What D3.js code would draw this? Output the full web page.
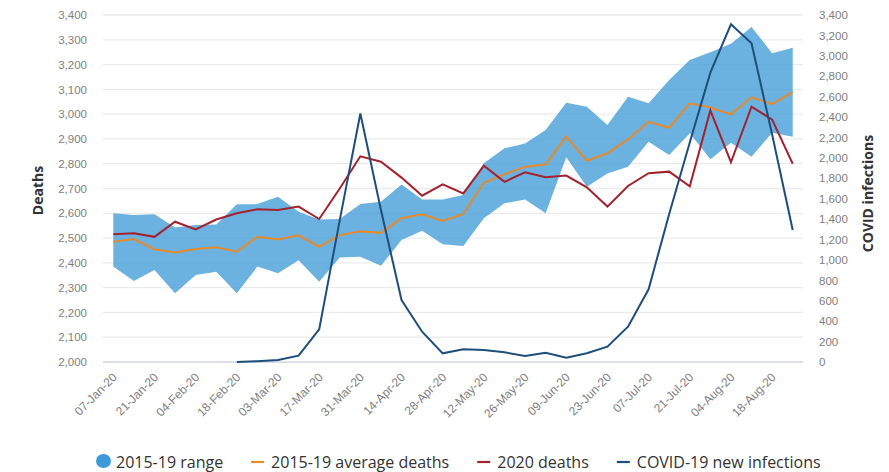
<!DOCTYPE html>
<html>
<head>
<meta charset="utf-8">
<script src="https://cdn.jsdelivr.net/npm/d3@7"></script>
<style>
  body { margin: 0; background: #fff; }
  svg { font-family: "Open Sans", "Noto Sans", sans-serif; }
  .tick text { fill: #808080; font-size: 11.5px; }
  .x-axis .tick text { font-size: 12px; }
  .title { fill: #333; font-size: 14px; font-weight: bold; }
  .legend text { fill: #333; font-size: 16px; }
</style>
</head>
<body>
<div id="chart"></div>
<script>
// weekly categories
const weeks = [
  "07-Jan-20","14-Jan-20","21-Jan-20","28-Jan-20","04-Feb-20","11-Feb-20","18-Feb-20","25-Feb-20",
  "03-Mar-20","10-Mar-20","17-Mar-20","24-Mar-20","31-Mar-20","07-Apr-20","14-Apr-20","21-Apr-20",
  "28-Apr-20","05-May-20","12-May-20","19-May-20","26-May-20","02-Jun-20","09-Jun-20","16-Jun-20",
  "23-Jun-20","30-Jun-20","07-Jul-20","14-Jul-20","21-Jul-20","28-Jul-20","04-Aug-20","11-Aug-20",
  "18-Aug-20","25-Aug-20"
];

// 2015-19 range (min / max)
const rangeLow = [2385,2327,2371,2277,2351,2364,2277,2385,2358,2411,2324,2422,2425,2388,2492,2530,
  2475,2468,2580,2640,2656,2600,2826,2707,2761,2788,2889,2835,2923,2818,2885,2828,2925,2909];
const rangeHigh = [2600,2593,2596,2543,2553,2555,2636,2637,2667,2606,2575,2577,2637,2647,2716,2656,
  2656,2674,2802,2862,2882,2936,3046,3030,2956,3070,3044,3138,3218,3250,3284,3352,3246,3268];

// 2015-19 average deaths
const avgDeaths = [2485,2496,2455,2442,2456,2463,2445,2505,2494,2511,2465,2512,2527,2521,2580,2596,
  2569,2597,2723,2757,2788,2797,2909,2812,2842,2898,2969,2945,3044,3027,2999,3068,3040,3089];

// 2020 deaths
const deaths2020 = [2515,2519,2505,2566,2535,2575,2600,2616,2613,2627,2577,2700,2830,2808,2744,2671,
  2717,2680,2792,2727,2765,2745,2752,2705,2627,2710,2762,2768,2709,3015,2806,3030,2978,2800];

// COVID-19 new infections (right axis), none before 18-Feb
const covid = [null,null,null,null,null,null,0,8,20,62,320,1390,2435,1490,607,297,
  85,124,118,95,59,91,42,85,150,346,712,1450,2150,2835,3309,3122,2230,1293];

const leftTicks = d3.range(2000, 3401, 100);
const rightTicks = d3.range(0, 3401, 200);
const weekTicks = weeks.filter((d, i) => i % 2 === 0);

const legendItems = [
  {label: "2015-19 range", type: "dot", color: "#3d9ad6"},
  {label: "2015-19 average deaths", type: "line", color: "#e68a2e"},
  {label: "2020 deaths", type: "line", color: "#a3222e"},
  {label: "COVID-19 new infections", type: "line", color: "#1e4e79"}
];

const width = 889, height = 472;
const m = {left: 103, right: 86, top: 15, bottom: 110};

const svg = d3.select("#chart").append("svg")
  .attr("width", width)
  .attr("height", height);

const x = d3.scalePoint()
  .domain(weeks)
  .range([m.left, width - m.right])
  .padding(0.5);
const yL = d3.scaleLinear().domain([2000, 3400]).range([height - m.bottom, m.top]);
const yR = d3.scaleLinear().domain([0, 3400]).range([height - m.bottom, m.top]);

// gridlines
svg.append("g")
  .selectAll("line")
  .data(leftTicks.slice(1))
  .join("line")
  .attr("x1", m.left).attr("x2", width - m.right)
  .attr("y1", d => yL(d)).attr("y2", d => yL(d))
  .attr("stroke", "#ebebeb")
  .attr("stroke-width", 1.3);

// baseline
svg.append("line")
  .attr("x1", m.left).attr("x2", width - m.right)
  .attr("y1", yL(2000)).attr("y2", yL(2000))
  .attr("stroke", "#cdd6e6")
  .attr("stroke-width", 1.3);

// left axis
svg.append("g")
  .attr("transform", `translate(${m.left},0)`)
  .call(d3.axisLeft(yL).tickValues(leftTicks).tickFormat(d3.format(",")).tickSize(0).tickPadding(16))
  .call(g => g.select(".domain").remove());

// right axis
svg.append("g")
  .attr("transform", `translate(${width - m.right},0)`)
  .call(d3.axisRight(yR).tickValues(rightTicks).tickFormat(d3.format(",")).tickSize(0).tickPadding(16))
  .call(g => g.select(".domain").remove());

// bottom axis, rotated labels
svg.append("g")
  .attr("class", "x-axis")
  .attr("transform", `translate(0,${yL(2000)})`)
  .call(d3.axisBottom(x).tickValues(weekTicks).tickSize(0))
  .call(g => g.select(".domain").remove())
  .call(g => g.selectAll("text")
    .attr("x", 0).attr("y", 0)
    .attr("dy", "0.35em")
    .attr("text-anchor", "end")
    .attr("transform", "translate(1,13) rotate(-45)"));

// axis titles
svg.append("text")
  .attr("class", "title")
  .attr("transform", `translate(43,${(yL(2000) + yL(3400)) / 2 + 2}) rotate(-90)`)
  .attr("text-anchor", "middle")
  .text("Deaths");
svg.append("text")
  .attr("class", "title")
  .attr("transform", `translate(873,${(yL(2000) + yL(3400)) / 2 + 5}) rotate(-90)`)
  .attr("text-anchor", "middle")
  .text("COVID infections");

// range band
const area = d3.area()
  .x((d, i) => x(weeks[i]))
  .y0((d, i) => yL(rangeLow[i]))
  .y1((d, i) => yL(rangeHigh[i]));
svg.append("path")
  .datum(weeks)
  .attr("d", area)
  .attr("fill", "#3d9ad6")
  .attr("fill-opacity", 0.76);

// lines
const lineL = d3.line().x((d, i) => x(weeks[i])).y(d => yL(d));
const lineR = d3.line()
  .defined(d => d !== null)
  .x((d, i) => x(weeks[i])).y(d => yR(d));

svg.append("path")
  .datum(avgDeaths)
  .attr("d", lineL)
  .attr("fill", "none")
  .attr("stroke", legendItems[1].color)
  .attr("stroke-width", 2);

svg.append("path")
  .datum(deaths2020)
  .attr("d", lineL)
  .attr("fill", "none")
  .attr("stroke", legendItems[2].color)
  .attr("stroke-width", 2);

svg.append("path")
  .datum(covid)
  .attr("d", lineR)
  .attr("fill", "none")
  .attr("stroke", legendItems[3].color)
  .attr("stroke-width", 2);

// legend
const legend = svg.append("g").attr("class", "legend");
let lx = 96;
const ly = 462;
legendItems.forEach(item => {
  const g = legend.append("g").attr("transform", `translate(${lx},${ly})`);
  if (item.type === "dot") {
    g.append("ellipse").attr("cx", 7.5).attr("cy", -1).attr("rx", 7.5).attr("ry", 7)
      .attr("fill", item.color);
  } else {
    g.append("line").attr("x1", 0).attr("x2", 13).attr("y1", 0).attr("y2", 0)
      .attr("stroke", item.color).attr("stroke-width", 2.2);
  }
  const t = g.append("text")
    .attr("x", 20)
    .attr("y", 0)
    .attr("dy", "0.35em")
    .text(item.label);
  lx += 20 + t.node().getComputedTextLength() + 28;
});
</script>
</body>
</html>
